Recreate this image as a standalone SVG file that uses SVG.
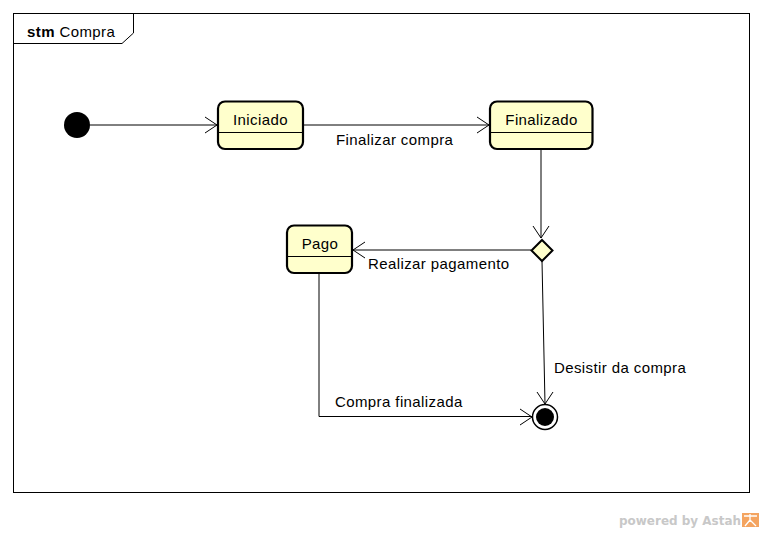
<svg xmlns="http://www.w3.org/2000/svg" width="764" height="533" viewBox="0 0 764 533">
<style>
text{font-family:"Liberation Sans",Arial,sans-serif;font-size:15px;letter-spacing:0.4px;fill:#000}
.st{fill:#FFFFCC;stroke:#000;stroke-width:2.2}
.dv{stroke:#000;stroke-width:1.2;fill:none}
.ln{stroke:#000;stroke-width:1;fill:none}
.ah{stroke:#000;stroke-width:1;fill:none}
</style>
<rect width="764" height="533" fill="#fff"/>
<g id="frame">
<rect x="13.5" y="13.5" width="736" height="479" fill="none" stroke="#000" stroke-width="1"/>
<path d="M13.5 43.5 H122 L133.5 33 V13.5" fill="none" stroke="#000" stroke-width="1"/>
<text x="27" y="37"><tspan font-weight="bold">stm</tspan> Compra</text>
</g>
<g id="connectors">
<line class="ln" x1="90" y1="125" x2="217" y2="125"/>
<path class="ah" d="M205 117 L217 125 L205 133"/>
<line class="ln" x1="303" y1="125" x2="489" y2="125"/>
<path class="ah" d="M477 117 L489 125 L477 133"/>
<text x="336" y="145">Finalizar compra</text>
<line class="ln" x1="541" y1="150" x2="541" y2="238"/>
<path class="ah" d="M533 226 L541 238 L549 226"/>
<line class="ln" x1="531" y1="250" x2="353" y2="250"/>
<path class="ah" d="M365 242 L353 250 L365 258"/>
<text x="368" y="269">Realizar pagamento</text>
<line class="ln" x1="542" y1="261" x2="545" y2="404"/>
<path class="ah" d="M537 392 L545 404 L553 392"/>
<text x="554" y="373">Desistir da compra</text>
<path class="ln" d="M319 274 V416.5 H532"/>
<path class="ah" d="M520 409 L532 417 L520 425"/>
<text x="335" y="407">Compra finalizada</text>
</g>
<g id="initial"><circle cx="77" cy="125" r="13" fill="#000"/></g>
<g id="iniciado">
<rect class="st" x="218" y="101.5" width="85" height="47.5" rx="7"/>
<line class="dv" x1="218" y1="132.5" x2="303" y2="132.5"/>
<text x="260.5" y="125" text-anchor="middle">Iniciado</text>
</g>
<g id="finalizado">
<rect class="st" x="490" y="101.5" width="102.5" height="47.5" rx="7"/>
<line class="dv" x1="490" y1="132.5" x2="592.5" y2="132.5"/>
<text x="541.5" y="125" text-anchor="middle">Finalizado</text>
</g>
<g id="pago">
<rect class="st" x="287" y="225.5" width="65" height="47.5" rx="7"/>
<line class="dv" x1="287" y1="256.5" x2="352" y2="256.5"/>
<text x="320" y="249" text-anchor="middle">Pago</text>
</g>
<g id="decision">
<path d="M542 240 L552.5 250.5 L542 261 L531.5 250.5 Z" fill="#FFFFCC" stroke="#000" stroke-width="2"/>
</g>
<g id="final">
<circle cx="545" cy="417" r="12.5" fill="#fff" stroke="#000" stroke-width="1.5"/>
<circle cx="545" cy="417" r="9" fill="#000"/>
</g>
<g id="watermark">
<text x="619" y="525" textLength="122" lengthAdjust="spacingAndGlyphs" style="font-size:13px;letter-spacing:0;font-weight:bold;fill:#c8c8c8;font-family:'DejaVu Sans','Liberation Sans',sans-serif">powered by Astah</text>
<rect x="742" y="513" width="17" height="14" fill="#f4a460"/>
<path d="M744 516 H757 M750 514 V522 M745 526 L750 520 L756 526" stroke="#fff" stroke-width="1.3" fill="none"/>
</g>
</svg>
